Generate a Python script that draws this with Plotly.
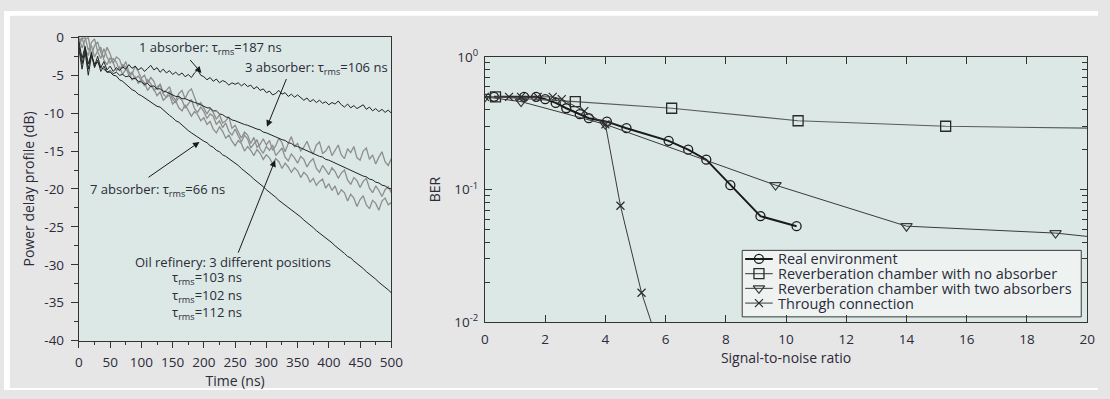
import plotly.graph_objects as go

# ---------------- Left panel: power delay profiles ----------------
# sample times (ns), 5 ns step
time_ns = list(range(0, 505, 5))

abs1_db = [-1.0, -3.5, -1.5, -4.2, -2.0, -3.8, -2.5, -4.0, -3.2, -4.3, -3.8, -4.5, -4.0, -4.4, -3.9, -4.2,
           -3.6, -4.1, -3.8, -4.3, -4.0, -4.5, -4.1, -3.7, -4.3, -4.0, -4.6, -4.2, -4.7, -4.4, -4.9, -4.6,
           -5.0, -4.7, -5.2, -4.9, -5.3, -4.7, -4.3, -5.0, -5.2, -5.6, -5.3, -5.8, -5.5, -6.0, -5.7, -5.9,
           -6.3, -6.0, -6.2, -6.0, -6.4, -6.1, -6.5, -6.3, -6.8, -6.5, -7.0, -6.8, -7.3, -7.1, -7.6, -7.4,
           -7.0, -7.5, -7.3, -7.8, -7.5, -7.9, -7.6, -8.0, -8.3, -8.0, -8.5, -8.2, -8.6, -8.3, -8.7, -8.5,
           -8.9, -8.6, -8.8, -8.4, -8.9, -9.2, -8.8, -9.3, -9.0, -9.4, -9.1, -8.9, -9.5, -9.2, -9.7, -9.4,
           -9.8, -9.5, -9.9, -9.6, -10.0]

abs3_db = [-0.5, -2.8, -1.2, -3.5, -2.2, -4.0, -3.0, -4.5, -3.8, -4.6, -4.4, -4.8, -4.6, -5.0, -4.9, -5.2,
           -5.1, -5.5, -5.4, -5.8, -5.9, -6.2, -6.1, -6.5, -6.4, -6.8, -6.8, -7.1, -7.2, -7.4, -7.5, -7.8,
           -7.8, -8.1, -8.1, -8.3, -8.4, -8.6, -8.7, -8.9, -9.0, -9.3, -9.3, -9.7, -9.7, -10.1, -10.2, -10.5,
           -10.6, -10.9, -11.0, -11.2, -11.3, -11.5, -11.6, -11.8, -11.9, -12.1, -12.2, -12.5, -12.6, -12.8,
           -12.9, -13.2, -13.3, -13.5, -13.6, -13.9, -14.0, -14.3, -14.4, -14.6, -14.7, -15.0, -15.1, -15.4,
           -15.5, -15.7, -15.8, -16.1, -16.2, -16.4, -16.6, -16.8, -17.0, -17.2, -17.3, -17.6, -17.7, -17.9,
           -18.1, -18.3, -18.4, -18.7, -18.8, -19.1, -19.2, -19.5, -19.6, -19.9, -20.0]

abs7_db = [-1.5, -4.2, -2.0, -5.0, -2.5, -3.5, -3.3, -4.0, -4.2, -4.6, -4.6, -5.0, -5.1, -5.6, -5.8, -6.2,
           -6.5, -6.9, -7.1, -7.5, -7.7, -8.0, -8.2, -8.6, -8.8, -9.1, -9.2, -9.6, -9.9, -10.3, -10.6, -11.0,
           -11.2, -11.6, -11.9, -12.3, -12.6, -12.9, -13.1, -13.4, -13.7, -13.9, -14.3, -14.5, -14.9, -15.1,
           -15.5, -15.7, -16.0, -16.2, -16.6, -16.9, -17.3, -17.6, -18.0, -18.3, -18.7, -19.0, -19.4, -19.7,
           -20.1, -20.4, -20.8, -21.1, -21.5, -21.8, -22.2, -22.4, -22.8, -23.1, -23.4, -23.7, -24.1, -24.4,
           -24.8, -25.1, -25.5, -25.8, -26.2, -26.4, -26.8, -27.1, -27.5, -27.8, -28.2, -28.5, -28.9, -29.1,
           -29.5, -29.8, -30.2, -30.5, -30.9, -31.2, -31.6, -31.9, -32.3, -32.6, -33.0, -33.3, -33.7]

# oil refinery, three receiver positions
refinery_a_db = [0.0, -1.4, -0.3, 0.0, -2.3, -1.1, -0.6, -2.0, -2.7, -1.3, -2.2,
                 -3.4, -2.6, -2.9, -4.1, -3.2, -4.6, -4.9, -3.8, -4.5, -5.4,
                 -5.0, -6.1, -5.3, -5.8, -6.9, -6.2, -7.3, -7.0, -6.5, -7.8,
                 -8.3, -7.4, -7.0, -8.1, -7.2, -6.8, -7.9, -9.0, -8.6, -9.3,
                 -10.1, -9.4, -9.9, -10.8, -10.2, -11.3, -11.0, -10.5, -12.0, -11.6,
                 -12.4, -13.3, -12.5, -12.9, -14.0, -13.2, -14.5, -14.1, -13.4, -14.2,
                 -13.6, -14.9, -14.3, -13.3, -13.9, -15.1, -14.0, -13.1, -14.4, -14.0,
                 -15.0, -14.5, -13.7, -14.8, -15.4, -14.2, -13.8, -15.3, -15.0, -14.3,
                 -15.6, -14.8, -14.2, -15.5, -16.0, -14.7, -15.2, -14.4, -15.9, -16.2,
                 -15.0, -14.6, -16.1, -15.5, -16.7, -15.8, -15.1, -16.4, -16.9, -16.0]

refinery_b_db = [-0.5, 0.0, -1.6, -2.4, -0.7, -0.2, -1.9, -2.8, -1.5, -2.6, -3.4,
                 -2.8, -3.3, -4.3, -3.6, -3.9, -5.0, -4.6, -5.5, -5.1, -5.7,
                 -6.4, -5.6, -6.1, -7.0, -6.6, -6.2, -7.5, -7.9, -7.1, -8.2,
                 -8.6, -7.9, -8.3, -9.3, -8.8, -8.2, -9.4, -9.9, -9.2, -9.8,
                 -10.7, -10.1, -10.4, -11.5, -11.0, -11.9, -11.3, -12.4, -12.9, -12.1,
                 -13.0, -13.8, -12.9, -13.4, -14.6, -14.1, -13.5, -14.7, -15.3, -14.4,
                 -14.9, -14.2, -15.6, -15.1, -14.6, -15.8, -16.3, -15.4, -15.9, -16.6,
                 -15.7, -16.1, -17.1, -16.4, -16.0, -17.3, -17.8, -16.9, -17.5, -18.1,
                 -17.2, -17.7, -18.6, -17.9, -17.5, -18.8, -19.4, -18.5, -18.9, -19.8,
                 -19.0, -18.6, -19.9, -20.5, -19.6, -20.2, -21.0, -20.1, -19.7, -20.5]

refinery_c_db = [-1.0, -0.2, 0.0, -1.7, -1.1, -2.6, -1.8, -1.3, -3.0, -3.6, -2.7,
                 -3.4, -4.4, -3.9, -4.9, -4.2, -4.6, -5.6, -5.2, -6.1, -5.5,
                 -6.0, -7.0, -6.4, -6.8, -7.7, -7.2, -8.3, -7.9, -7.6, -8.8,
                 -8.4, -9.3, -9.7, -8.9, -9.6, -10.4, -9.8, -10.2, -11.0, -10.6,
                 -11.5, -11.1, -12.1, -12.6, -11.8, -12.4, -13.3, -12.9, -13.7, -14.3,
                 -13.6, -14.0, -15.0, -14.4, -14.9, -15.6, -14.8, -15.3, -16.1, -15.5,
                 -15.9, -16.7, -16.0, -16.4, -17.3, -16.6, -17.1, -17.8, -17.2, -17.6,
                 -18.5, -17.8, -18.2, -19.1, -18.6, -19.5, -19.0, -18.7, -19.9, -19.3,
                 -20.2, -19.6, -20.8, -20.1, -20.5, -21.6, -20.7, -21.2, -22.3, -21.4,
                 -20.9, -22.1, -22.6, -21.5, -21.9, -22.8, -21.6, -21.2, -22.1, -21.8]

db_ticks = [0, -5, -10, -15, -20, -25, -30, -35, -40]

# ---------------- Right panel: BER vs SNR ----------------
real_snr = [0.3, 1.3, 1.7, 2.0, 2.35, 2.7, 3.15, 3.45, 4.05, 4.7, 6.1, 6.75, 7.35, 8.15, 9.15, 10.35]
real_ber = [0.5, 0.5, 0.5, 0.48, 0.45, 0.41, 0.37, 0.345, 0.325, 0.29, 0.233, 0.20, 0.168, 0.108, 0.063, 0.053]

noabs_snr = [0.35, 3.0, 6.2, 10.4, 15.3, 21.0]
noabs_ber = [0.5, 0.46, 0.41, 0.33, 0.30, 0.288]

twoabs_snr = [0.0, 1.2, 4.0, 9.65, 14.0, 18.95, 21.0]
twoabs_ber = [0.5, 0.46, 0.31, 0.108, 0.053, 0.047, 0.042]

through_snr = [0.0, 0.8, 1.2, 1.75, 2.25, 2.55, 3.3, 4.0, 4.5, 5.2, 5.9]
through_ber = [0.5, 0.5, 0.5, 0.5, 0.5, 0.48, 0.39, 0.31, 0.0755, 0.0167, 0.0055]

legend_names = ["Real environment", "Reverberation chamber with no absorber",
                "Reverberation chamber with two absorbers", "Through connection"]

FONT = "Open Sans"
TXT = "#2b2b3a"
AXC = "#333333"
PLOT_BG = "#dce8e5"
PAGE_BG = "#e6e6e6"

# figure geometry (pixels)
W, H = 1110, 399
L_X0, L_X1, L_Y0, L_Y1 = 76, 393, 27.7, 347      # left plot area
R_X0, R_X1, R_Y0, R_Y1 = 488, 1099, 48.3, 327.7  # right plot area

# BER series styles
series_styles = [
    dict(line=dict(color="#1a1a1a", width=2),
         marker=dict(symbol="circle-open", size=9, color="#1a1a1a", line=dict(width=1.3))),
    dict(line=dict(color="#5a5a5a", width=1.2),
         marker=dict(symbol="square-open", size=10, color="#2a2a2a", line=dict(width=1.3))),
    dict(line=dict(color="#3a3a3a", width=1),
         marker=dict(symbol="triangle-down-open", size=10, color="#3a3a3a", line=dict(width=1.2))),
    dict(line=dict(color="#3a3a3a", width=1),
         marker=dict(symbol="x-thin-open", size=8, color="#2a2a2a", line=dict(width=1.2))),
]

fig = go.Figure()

# gray refinery curves first so the black ones sit on top
for ys in (refinery_a_db, refinery_b_db, refinery_c_db):
    fig.add_trace(go.Scatter(x=time_ns, y=ys, mode="lines", line=dict(color="#8e8e8e", width=1.3),
                             showlegend=False, xaxis="x", yaxis="y", hoverinfo="skip"))
for ys in (abs1_db, abs3_db, abs7_db):
    fig.add_trace(go.Scatter(x=time_ns, y=ys, mode="lines", line=dict(color="#222222", width=1),
                             showlegend=False, xaxis="x", yaxis="y", hoverinfo="skip"))

# BER curves
for (sx, sy), name, st in zip([(real_snr, real_ber), (noabs_snr, noabs_ber),
                               (twoabs_snr, twoabs_ber), (through_snr, through_ber)],
                              legend_names, series_styles):
    fig.add_trace(go.Scatter(x=sx, y=sy, mode="lines+markers", name=name, showlegend=False,
                             xaxis="x2", yaxis="y2", **st))

# legend box drawn on a pixel-scaled overlay of the right panel
LEG_X0, LEG_X1, LEG_Y0, LEG_Y1 = 749, 1093, 252, 322
fig.add_trace(go.Scatter(x=[LEG_X0, LEG_X1, LEG_X1, LEG_X0, LEG_X0],
                         y=[LEG_Y0, LEG_Y0, LEG_Y1, LEG_Y1, LEG_Y0],
                         mode="lines", fill="toself", fillcolor="#eef3f2",
                         line=dict(color="#3a3a3a", width=1), showlegend=False,
                         hoverinfo="skip", xaxis="x3", yaxis="y3"))
row_y = [261, 276.5, 292, 307.5]
legend_ann = []
for yc, name, st in zip(row_y, legend_names, series_styles):
    fig.add_trace(go.Scatter(x=[752, 780], y=[yc, yc], mode="lines", line=st["line"],
                             showlegend=False, hoverinfo="skip", xaxis="x3", yaxis="y3"))
    fig.add_trace(go.Scatter(x=[766], y=[yc], mode="markers", marker=st["marker"],
                             showlegend=False, hoverinfo="skip", xaxis="x3", yaxis="y3"))
    legend_ann.append(dict(x=783, y=yc, xref="x3", yref="y3", text=name, showarrow=False,
                           xanchor="left", yanchor="middle",
                           font=dict(family=FONT, size=14.5, color=TXT)))

ann_font = dict(family=FONT, size=13, color=TXT)
annotations = [
    dict(x=211, y=-1.4, text="1 absorber: τ<sub>rms</sub>=187 ns"),
    dict(x=380, y=-4.0, text="3 absorber: τ<sub>rms</sub>=106 ns"),
    dict(x=125, y=-20.1, text="7 absorber: τ<sub>rms</sub>=66 ns"),
    dict(x=247, y=-29.6, text="Oil refinery: 3 different positions"),
    dict(x=205, y=-31.8, text="τ<sub>rms</sub>=103 ns"),
    dict(x=205, y=-34.1, text="τ<sub>rms</sub>=102 ns"),
    dict(x=205, y=-36.4, text="τ<sub>rms</sub>=112 ns"),
]
for a in annotations:
    a.update(xref="x", yref="y", showarrow=False, font=ann_font)

# arrows: (tip x, tip y, tail x, tail y)
arrows = [(196, -4.7, 176, -2.8), (301, -11.8, 333, -5.3), (193, -13.8, 109, -18.6), (314, -16.2, 254, -28.6)]
for tx, ty, sx, sy in arrows:
    annotations.append(dict(x=tx, y=ty, ax=sx, ay=sy, xref="x", yref="y", axref="x", ayref="y",
                            text="", showarrow=True, arrowhead=2, arrowsize=1.3, arrowwidth=1,
                            arrowcolor="#1a1a1a", standoff=0))
annotations += legend_ann

tickfont = dict(family=FONT, size=13.5, color=TXT)
titlefont = dict(family=FONT, size=14, color=TXT)

minor_vals = [m * 10 ** e for e in (-2, -1) for m in range(2, 10)]

fig.update_layout(
    width=W, height=H,
    margin=dict(l=0, r=0, t=0, b=0),
    paper_bgcolor=PAGE_BG,
    plot_bgcolor=PLOT_BG,
    font=dict(family=FONT, color=TXT),
    xaxis=dict(domain=[L_X0 / W, L_X1 / W], range=[0, 500], anchor="y", dtick=50, tick0=0,
               ticks="outside", ticklen=6, tickwidth=1, tickcolor=AXC,
               minor=dict(dtick=25, ticks="outside", ticklen=3, tickcolor=AXC),
               showline=True, linecolor=AXC, linewidth=1.2, mirror=True,
               showgrid=False, zeroline=False, tickfont=tickfont, ticklabelstandoff=3,
               title=dict(text="Time (ns)", font=titlefont, standoff=4)),
    yaxis=dict(domain=[1 - L_Y1 / H, 1 - L_Y0 / H], range=[-40, 0], anchor="x",
               tickvals=db_ticks, ticktext=[str(v) for v in db_ticks],
               ticks="outside", ticklen=7, tickwidth=1, tickcolor=AXC,
               minor=dict(dtick=2.5, ticks="outside", ticklen=4, tickcolor=AXC),
               showline=True, linecolor=AXC, linewidth=1.2, mirror=True,
               showgrid=False, zeroline=False, tickfont=tickfont, ticklabelstandoff=4,
               title=dict(text="Power delay profile (dB)", font=titlefont, standoff=6)),
    xaxis2=dict(domain=[R_X0 / W, R_X1 / W], range=[0, 20], anchor="y2", dtick=2, tick0=0,
                ticks="inside", ticklen=7, tickwidth=1, tickcolor=AXC,
                showline=True, linecolor=AXC, linewidth=1.2, mirror="ticks",
                showgrid=False, zeroline=False, tickfont=tickfont, ticklabelstandoff=4,
                title=dict(text="Signal-to-noise ratio", font=titlefont, standoff=4)),
    yaxis2=dict(domain=[1 - R_Y1 / H, 1 - R_Y0 / H], type="log", range=[-2, 0], anchor="x2",
                tickvals=[0.01, 0.1, 1], ticktext=["10<sup>-2</sup>", "10<sup>-1</sup>", "10<sup>0</sup>"],
                ticks="inside", ticklen=7, tickwidth=1, tickcolor=AXC,
                minor=dict(tickvals=minor_vals, ticks="inside", ticklen=5, tickcolor=AXC, showgrid=False),
                showline=True, linecolor=AXC, linewidth=1.2, mirror="allticks",
                showgrid=False, zeroline=False, tickfont=tickfont, ticklabelstandoff=3,
                title=dict(text="BER", font=titlefont, standoff=10)),
    # pixel-coordinate overlay used for the legend
    xaxis3=dict(overlaying="x2", range=[R_X0, R_X1], visible=False, anchor="y3", fixedrange=True),
    yaxis3=dict(overlaying="y2", range=[R_Y1, R_Y0], visible=False, anchor="x3", fixedrange=True),
    showlegend=False,
    annotations=annotations,
    shapes=[
        dict(type="rect", xref="paper", yref="paper", x0=0, x1=6 / W, y0=0, y1=1,
             fillcolor="white", line=dict(width=0), layer="above"),
        dict(type="rect", xref="paper", yref="paper", x0=0, x1=1, y0=1 - 5 / H, y1=1,
             fillcolor="white", line=dict(width=0), layer="above"),
        dict(type="rect", xref="paper", yref="paper", x0=0, x1=1, y0=0, y1=2 / H,
             fillcolor="white", line=dict(width=0), layer="above"),
    ],
)

# page without body margin so the 1110x399 figure fills the window exactly
page_css = ("document.documentElement.style.margin='0';"
            "document.body.style.margin='0';"
            "document.body.style.overflow='hidden';")
fig.write_html("out.html", post_script=page_css)
